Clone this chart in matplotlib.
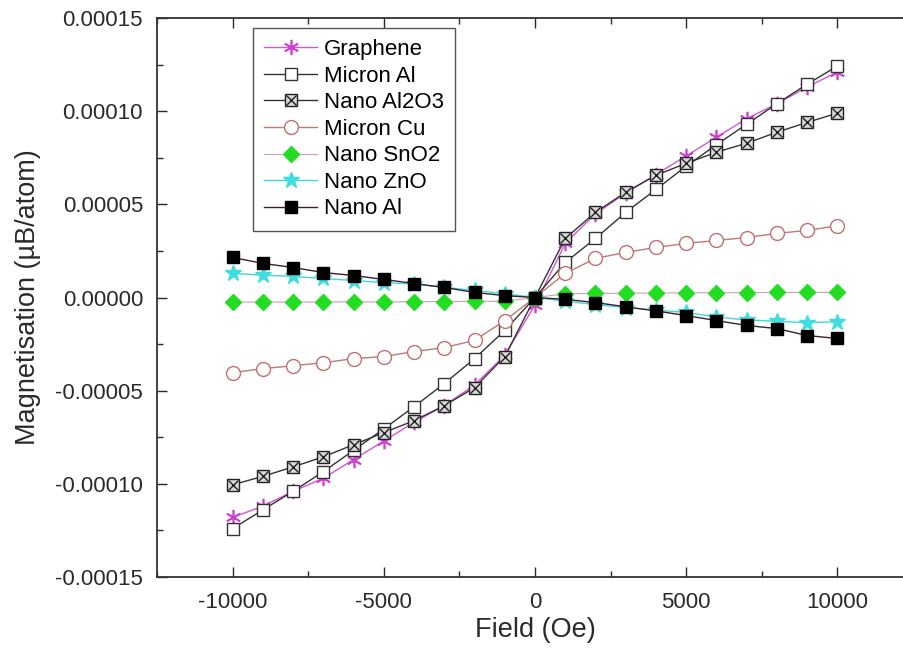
import matplotlib
matplotlib.use("Agg")
import matplotlib.pyplot as plt
from matplotlib.ticker import MultipleLocator, FuncFormatter
from matplotlib.legend_handler import HandlerTuple

plt.rcParams['font.family'] = ['Liberation Sans', 'DejaVu Sans']

field = [-10000, -9000, -8000, -7000, -6000, -5000, -4000, -3000, -2000, -1000, 0,
         1000, 2000, 3000, 4000, 5000, 6000, 7000, 8000, 9000, 10000]

graphene = [-0.000118, -0.000112, -0.000104, -0.000097, -0.000087, -0.000077, -0.000067,
            -0.000058, -0.000047, -0.000031, -0.000004, 0.000029, 0.000045, 0.000056,
            0.000066, 0.000076, 0.000086, 0.000096, 0.000104, 0.000113, 0.000121]
micron_al = [-0.000124, -0.000114, -0.000104, -0.0000935, -0.000082, -0.0000705, -0.0000586,
             -0.0000462, -0.0000328, -0.0000177, 0.0, 0.0000188, 0.0000317, 0.0000457,
             0.000058, 0.0000705, 0.000082, 0.000093, 0.000104, 0.0001145, 0.0001242]
nano_al2o3 = [-0.0001005, -0.000096, -0.0000909, -0.0000855, -0.000079, -0.0000725, -0.0000661,
              -0.000058, -0.0000484, -0.0000317, 0.0, 0.0000317, 0.0000457, 0.0000565,
              0.0000656, 0.000072, 0.000078, 0.0000828, 0.0000887, 0.000094, 0.0000989]
micron_cu = [-0.0000403, -0.0000382, -0.0000366, -0.000035, -0.0000328, -0.0000317, -0.000029,
             -0.0000269, -0.000023, -0.0000124, 0.0, 0.0000129, 0.000021, 0.0000242,
             0.0000269, 0.000029, 0.0000306, 0.0000322, 0.0000344, 0.000036, 0.0000385]
nano_sno2 = [-0.0000025, -0.0000024, -0.0000025, -0.0000024, -0.0000023, -0.0000024, -0.0000022,
             -0.0000022, -0.0000021, -0.000002, 0.0, 0.000002, 0.0000022, 0.0000023,
             0.0000024, 0.0000025, 0.0000026, 0.0000026, 0.0000027, 0.0000027, 0.0000028]
nano_zno = [0.0000129, 0.000012, 0.0000113, 0.0000102, 0.0000091, 0.000008, 0.0000072,
            0.0000054, 0.0000038, 0.000002, 0.0, -0.000002, -0.0000038, -0.0000054,
            -0.0000068, -0.000008, -0.0000105, -0.000012, -0.0000128, -0.0000135, -0.000013]
nano_al = [0.0000215, 0.0000183, 0.0000161, 0.0000134, 0.0000118, 0.0000097, 0.0000075,
           0.0000054, 0.0000027, 0.000001, 0.0, -0.000001, -0.0000027, -0.000005,
           -0.0000072, -0.0000097, -0.0000124, -0.000015, -0.0000167, -0.0000204, -0.000022]

fig = plt.figure(figsize=(9.04, 6.59), dpi=100)
ax = fig.add_axes([157/904, (659-577)/659, (913-157)/904, (577-18)/659])

h_gr, = ax.plot(field, graphene, color='#d455d4', lw=1.0, marker=(6, 2, 0), ms=11,
                mec='#d040d0', mew=1.2, label='Graphene', zorder=2)
h_mal, = ax.plot(field, micron_al, color='#333333', lw=1.0, marker='s', ms=8.5,
                 mfc='white', mec='#333333', mew=1.0, label='Micron Al', zorder=3)
h_ao_s, = ax.plot(field, nano_al2o3, color='#333333', lw=1.0, marker='s', ms=8.5,
                  mfc='#d8d8d8', mec='#222222', mew=1.0, zorder=3)
h_ao_x, = ax.plot(field, nano_al2o3, ls='none', marker='x', ms=7, mec='#222222', mew=1.0, zorder=3)
h_cu, = ax.plot(field, micron_cu, color='#c07878', lw=1.0, marker='o', ms=10,
                mfc='white', mec='#c07070', mew=1.0, label='Micron Cu', zorder=3)
h_sn, = ax.plot(field, nano_sno2, color='#d0a0b0', lw=0.8, marker='D', ms=8,
                mfc='#22dd22', mec='#22dd22', mew=1.0, label='Nano SnO2', zorder=3)
h_zn, = ax.plot(field, nano_zno, color='#40d8d8', lw=1.0, marker='*', ms=12,
                mfc='#40dde0', mec='#40dde0', label='Nano ZnO', zorder=3)
h_al, = ax.plot(field, nano_al, color='#3a2030', lw=1.0, marker='s', ms=8,
                mfc='black', mec='black', label='Nano Al', zorder=3)

ax.set_xlim(-12500, 12500)
ax.set_ylim(-0.00015, 0.00015)
ax.xaxis.set_major_locator(MultipleLocator(5000))
ax.xaxis.set_minor_locator(MultipleLocator(2500))
ax.yaxis.set_major_locator(MultipleLocator(0.00005))
ax.yaxis.set_minor_locator(MultipleLocator(0.000025))

def yfmt(v, pos):
    if abs(v) < 1e-12:
        return '0.00000'
    return '%.5f' % v

ax.yaxis.set_major_formatter(FuncFormatter(yfmt))
ax.xaxis.set_major_formatter(FuncFormatter(lambda v, p: '%d' % round(v)))
ax.tick_params(which='both', direction='in', top=True, right=True, labelsize=16,
               colors='#2a2a2a', width=1.0)
ax.tick_params(which='major', length=7)
ax.tick_params(which='minor', length=4)
ax.tick_params(axis='y', which='major', pad=10)
ax.tick_params(axis='x', which='major', pad=11)
for s in ax.spines.values():
    s.set_linewidth(1.3)
    s.set_color('#333333')

ax.set_xlabel('Field (Oe)', fontsize=19.5, color='#2a2a2a', labelpad=3)
ax.set_ylabel('Magnetisation (\u00b5B/atom)', fontsize=19.5, color='#2a2a2a', labelpad=10)

handles = [h_gr, h_mal, (h_ao_s, h_ao_x), h_cu, h_sn, h_zn, h_al]
labels = ['Graphene', 'Micron Al', 'Nano Al2O3', 'Micron Cu', 'Nano SnO2', 'Nano ZnO', 'Nano Al']
leg = ax.legend(handles, labels, handler_map={tuple: HandlerTuple(ndivide=1)},
                loc='upper left', bbox_to_anchor=(253/904, 1-28/659),
                bbox_transform=fig.transFigure, fontsize=16, frameon=True, fancybox=False,
                edgecolor='#555555', framealpha=1, handlelength=2.4, handletextpad=0.3,
                labelspacing=0.25, borderpad=0.5, borderaxespad=0)
leg.get_frame().set_linewidth(1.0)

fig.savefig('out.png', dpi=100)
